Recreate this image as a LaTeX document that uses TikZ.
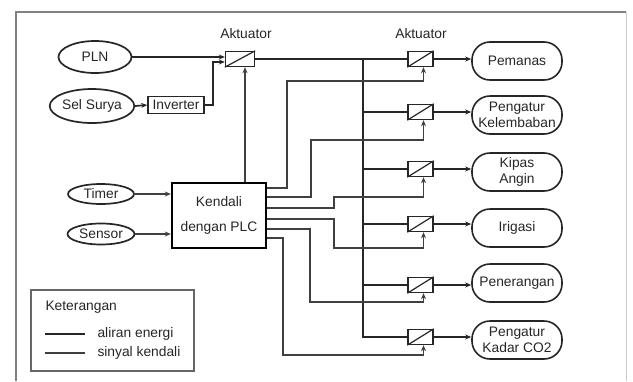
\documentclass[tikz,border=0pt]{standalone}
\usepackage{fontspec}
\setmainfont{Liberation Sans}
\usetikzlibrary{shapes.geometric,arrows.meta,calc}
\begin{document}
\begin{tikzpicture}[x=1pt,y=-1pt,
  txt/.style={font=\fontsize{13.8}{14}\selectfont,text=black!85},
  oval/.style={ellipse,draw=black!85,line width=1.7pt,inner sep=0pt,txt},
  pill/.style={draw=black!85,line width=1.6pt,rounded corners=18pt,minimum width=90pt,minimum height=38pt,inner sep=0pt,align=center,txt,font=\fontsize{13.8}{16}\selectfont},
  actbox/.style={draw=black!85,line width=1.4pt,minimum width=25pt,minimum height=15pt,inner sep=0pt},
  energy/.style={draw=black!85,line width=1.7pt},
  ctrl/.style={draw=black!75,line width=1.25pt},
  tip/.style={-{Stealth[length=6pt,width=5pt]}},
]
\useasboundingbox (0,0) rectangle (633,381);
% frame
\draw[black!50,line width=1.3pt] (16,381) -- (16,12) -- (626,12);
\draw[black!20,line width=1pt] (626,12) -- (626,381);

% sources
\node[oval,minimum width=73pt,minimum height=32pt] (pln) at (95,57) {PLN};
\node[oval,minimum width=73pt,minimum height=34pt] (sel) at (92,106) {Sel Surya};
\node[oval,minimum width=66pt,minimum height=20pt] (timer) at (101,194) {Timer};
\node[oval,minimum width=67pt,minimum height=21pt] (sensor) at (101,234) {Sensor};
\node[draw=black!85,line width=1.5pt,minimum width=56pt,minimum height=17pt,inner sep=0pt,txt] (inv) at (176,105) {Inverter};

% main actuator
\node[actbox,minimum width=29pt] (a0) at (240,59) {};
\draw[black!85,line width=1.2pt] (a0.south west) -- (a0.north east);
\node[txt,anchor=south] (lab0) at (246,42) {Aktuator};

% PLC
\node[draw=black,line width=2.4pt,minimum width=94pt,minimum height=65pt,inner sep=0pt,align=center,txt,font=\fontsize{13.8}{25}\selectfont] (plc) at (219,215.5) {Kendali\\dengan PLC};

% right actuators and loads
\foreach \i/\y in {1/59,2/112,3/169,4/224,5/285,6/337}{
  \node[actbox] (a\i) at (420.5,\y) {};
  \draw[black!85,line width=1.2pt] (a\i.south west) -- (a\i.north east);
  \coordinate (c\i) at ([xshift=3pt]a\i.south);
}
\node[txt,anchor=south] (lab1) at (421,42) {Aktuator};

\node[pill] (p1) at (517,61) {Pemanas};
\node[pill] (p2) at (517,115) {Pengatur\\Kelembaban};
\node[pill] (p3) at (517,172) {Kipas\\Angin};
\node[pill] (p4) at (517,228) {Irigasi};
\node[pill] (p5) at (517,283) {Penerangan};
\node[pill] (p6) at (517,340) {Pengatur\\Kadar CO2};

\foreach \i in {1,...,6}{
  \draw[energy,line width=1.3pt,tip] (a\i.east) -- (a\i.east -| p\i.west);
}

% energy lines
\draw[energy,tip] (pln.east) -- ([yshift=2pt]a0.west);
\draw[energy,tip] (sel.east) -- (inv.west);
\draw[energy,tip] (inv.east) -- ++(8,0) |- ([yshift=-3pt]a0.west);
\coordinate (bx) at (363,0);
\draw[energy] (a0.east) -- (a1.west);
\draw[energy] (a1.west -| bx) |- (a6.west);
\foreach \i in {2,...,5}{
  \draw[energy] (a\i.west -| bx) -- (a\i.west);
}

% control lines
\draw[ctrl,tip] (timer.east) -- (timer.east -| plc.west);
\draw[ctrl,tip] (sensor.east) -- (sensor.east -| plc.west);
\coordinate (c0) at ([xshift=5pt]a0.south);
\draw[ctrl,tip] (plc.north -| c0) -- (c0);
\draw[ctrl,tip] (plc.east |- 0,188) -| (287,81) -| (c1);
\draw[ctrl,tip] (plc.east |- 0,197) -| (311,140) -| (c2);
\draw[ctrl,tip] (plc.east |- 0,208) -| (334,197) -| (c3);
\draw[ctrl,tip] (plc.east |- 0,219) -| (334,248) -| (c4);
\draw[ctrl,tip] (plc.east |- 0,229) -| (310,302) -| (c5);
\draw[ctrl,tip] (plc.east |- 0,238) -| (283,355) -| (c6);

% legend
\node[draw=black!60,line width=1.3pt,minimum width=163pt,minimum height=81pt,inner sep=0pt] (leg) at (112.5,330.5) {};
\node[txt,anchor=west] (lk) at (42,307) {Keterangan};
\coordinate (l1a) at (45,334); \coordinate (l1b) at (85,334);
\coordinate (l2a) at (45,353); \coordinate (l2b) at (85,353);
\draw[energy] (l1a) -- (l1b);
\draw[ctrl] (l2a) -- (l2b);
\node[txt,anchor=west] (le) at (94,334) {aliran energi};
\node[txt,anchor=west] (ls) at (94,353) {sinyal kendali};
\end{tikzpicture}
\end{document}
